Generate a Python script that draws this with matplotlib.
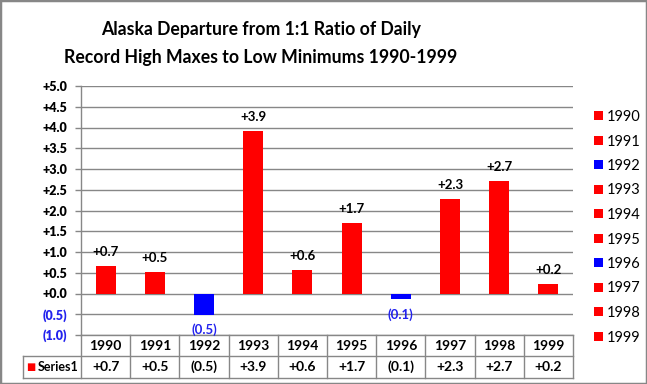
import matplotlib
matplotlib.use("Agg")
import matplotlib.pyplot as plt
from matplotlib.patches import Patch, Rectangle
from matplotlib.lines import Line2D

plt.rcParams['font.family'] = ['Lato', 'DejaVu Sans']

# ---- data ----
years = ['1990', '1991', '1992', '1993', '1994', '1995', '1996', '1997', '1998', '1999']
values = [0.67, 0.52, -0.51, 3.92, 0.57, 1.71, -0.13, 2.27, 2.72, 0.22]
yticks = [-1.0, -0.5, 0.0, 0.5, 1.0, 1.5, 2.0, 2.5, 3.0, 3.5, 4.0, 4.5, 5.0]
series_name = 'Series1'
title_lines = ['Alaska Departure from 1:1 Ratio of Daily',
               'Record High Maxes to Low Minimums 1990-1999']

RED = '#FF0000'
BLUE = '#0000FF'
TICKBLUE = '#2222EE'
GRAY = '#878787'


def fmt(v):
    return f'+{abs(v):.1f}' if v >= 0 else f'({abs(v):.1f})'


colors = [RED if v >= 0 else BLUE for v in values]

W, H = 647, 384
fig = plt.figure(figsize=(W / 100, H / 100), dpi=100)
ax = fig.add_axes([81 / W, 1 - 335 / H, (573 - 81) / W, 249 / H])

x = list(range(len(years)))
ax.bar(x, values, width=0.41, color=colors, zorder=3)
ax.set_xlim(-0.5, len(years) - 0.5)
ax.set_ylim(-1.0, 5.0)
ax.set_yticks(yticks)
ax.set_yticklabels([fmt(t) for t in yticks], fontsize=9, fontweight='heavy')
for lbl, t in zip(ax.get_yticklabels(), yticks):
    lbl.set_color('black' if t >= 0 else TICKBLUE)
ax.tick_params(axis='y', length=4, width=1, color=GRAY, pad=6)
ax.set_xticks([])
ax.yaxis.grid(True, color=GRAY, linewidth=1, zorder=0)
ax.set_axisbelow(True)
for s in ['top', 'right']:
    ax.spines[s].set_visible(False)
for s in ['left', 'bottom']:
    ax.spines[s].set_color(GRAY)
    ax.spines[s].set_linewidth(1)

# data labels
for xi, v in zip(x, values):
    if v >= 0:
        ax.annotate(fmt(v), (xi, v), xytext=(0, 10), textcoords='offset points',
                    ha='center', va='center', fontsize=9.5, fontweight='bold', color='black')
    else:
        ax.annotate(fmt(v), (xi, v), xytext=(0, -11), textcoords='offset points',
                    ha='center', va='center', fontsize=9.5, fontweight='bold', color=TICKBLUE)

# data table
tr = ax.get_xaxis_transform()
y1 = (335 - 356) / 249
y2 = (335 - 378) / 249
left_x = -0.5 - (81 - 23) / (492 / len(years))
n = len(years)
for yy in (y1, y2):
    ax.add_line(Line2D([left_x, n - 0.5], [yy, yy], transform=tr, color=GRAY, lw=1, clip_on=False))
for i in range(n + 1):
    ax.add_line(Line2D([i - 0.5, i - 0.5], [0, y2], transform=tr, color=GRAY, lw=1, clip_on=False))
ax.add_line(Line2D([left_x, left_x], [y1, y2], transform=tr, color=GRAY, lw=1, clip_on=False))
for xi, yr, v in zip(x, years, values):
    ax.text(xi, y1 / 2, yr, transform=tr, ha='center', va='center', fontsize=10, fontweight='bold')
    ax.text(xi, (y1 + y2) / 2, fmt(v), transform=tr, ha='center', va='center', fontsize=10,
            fontweight='bold')
ax.text(left_x + 0.06, (y1 + y2) / 2, '\u25A0', transform=tr, ha='left', va='center',
        fontsize=7, color=RED, family='DejaVu Sans')
ax.text(-0.55, (y1 + y2) / 2, series_name, transform=tr, ha='right', va='center',
        fontsize=9, fontweight='bold')

# title
fig.text(261 / W, 1 - 29 / H, title_lines[0], ha='center', va='center', fontsize=12.7, fontweight='bold')
fig.text(261 / W, 1 - 57 / H, title_lines[1], ha='center', va='center', fontsize=12.7, fontweight='bold')

# legend
handles = [Patch(facecolor=c, edgecolor='none') for c in colors]
fig.legend(handles, years, loc='upper left', bbox_to_anchor=(594 / W, 1 - 110 / H),
           frameon=False, fontsize=10.5, handlelength=0.6, handleheight=0.6,
           handletextpad=0.3, labelspacing=0.72, borderpad=0, borderaxespad=0)

# outer frame
fig.add_artist(Rectangle((0, 0), 1, 1, transform=fig.transFigure, fill=False,
                         edgecolor=GRAY, linewidth=2.5, clip_on=True))

fig.savefig('out.png', dpi=100)
